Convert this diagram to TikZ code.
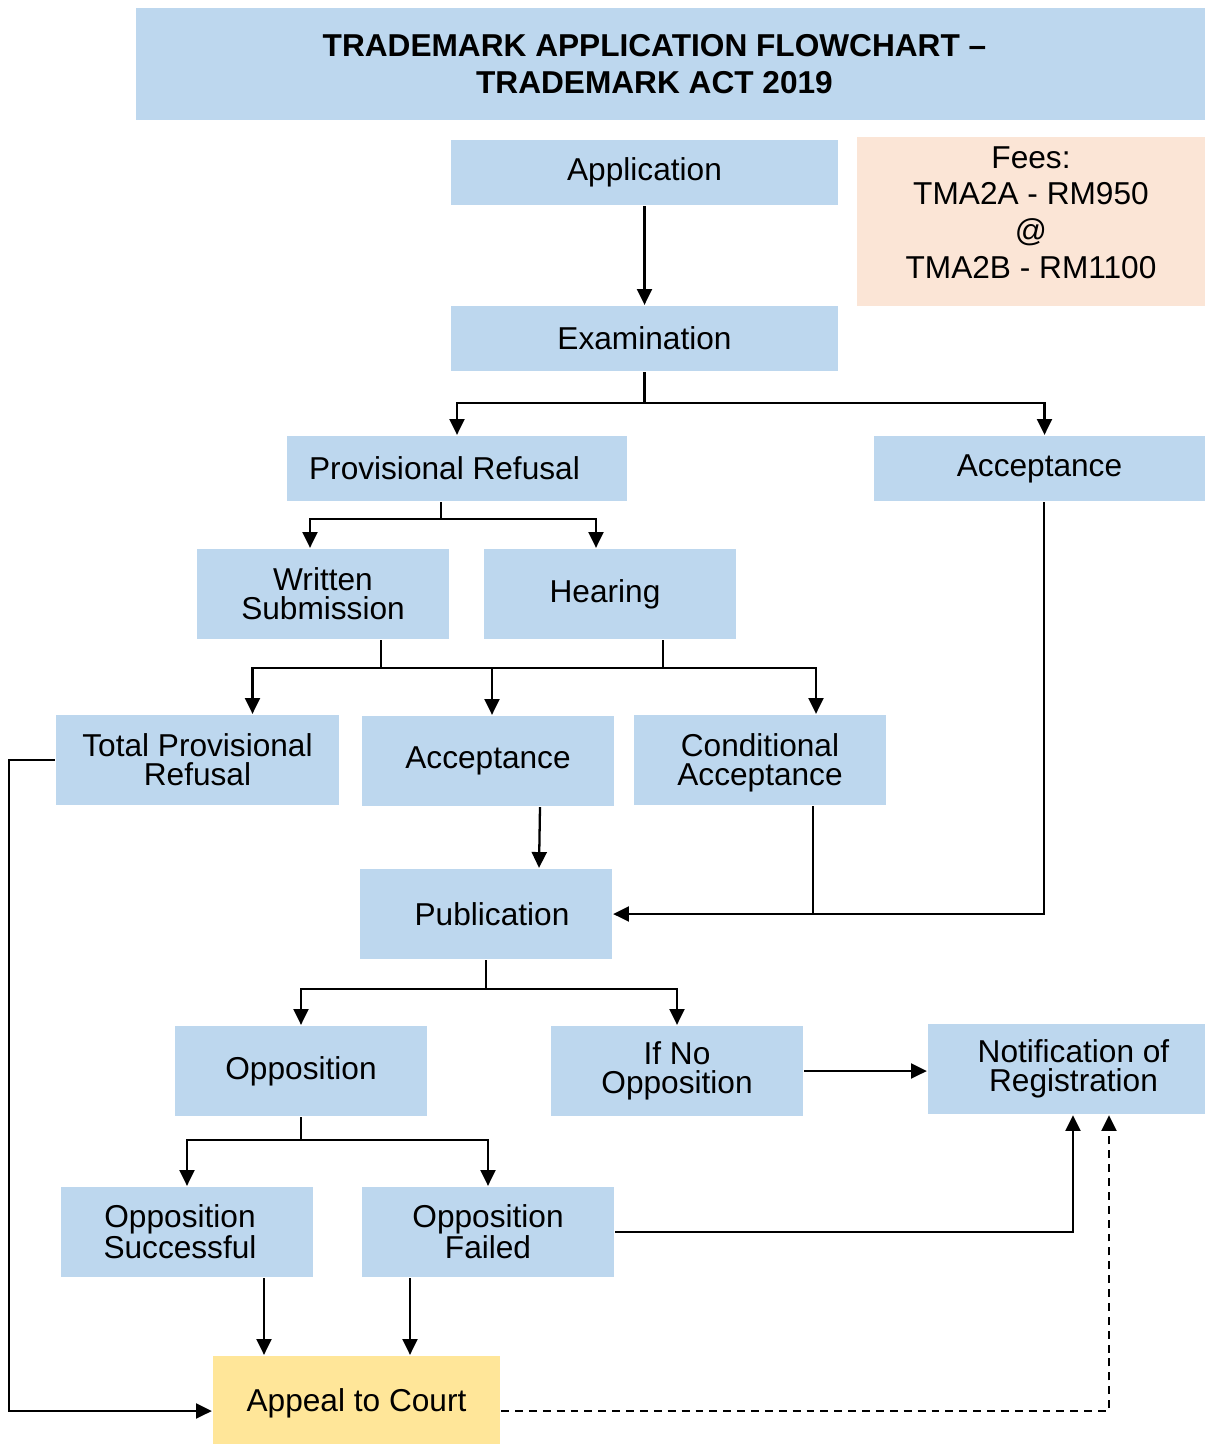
\documentclass[tikz,border=0pt]{standalone}
\usepackage{fontspec}
\setmainfont{Liberation Sans}
\usepackage{xcolor}
\definecolor{stepblue}{RGB}{189, 215, 238}
\definecolor{feepeach}{RGB}{251, 229, 214}
\definecolor{courtyellow}{RGB}{255, 230, 153}
\usepackage{tikz}
\usetikzlibrary{
    arrows.meta,
    positioning,
    calc
}

\begin{document}
\begin{tikzpicture}[
    line width=1.3pt,
    stage/.style={fill=stepblue, inner sep=0pt, minimum width=5.04cm, minimum height=1.8cm,
        align=center, font=\fontsize{18}{16.5}\selectfont},
    arr/.style={-{Triangle[length=9pt,width=8.5pt]}}
]
    \useasboundingbox (0,0) rectangle (24.1,-28.88);

    % Title and fees
    \node[stage, minimum width=21.38cm, minimum height=2.24cm,
        font=\fontsize{18}{21}\selectfont\bfseries] (title) at (13.41,-1.28)
        {\hspace*{-0.64cm}TRADEMARK APPLICATION FLOWCHART –\\\hspace*{-0.64cm}TRADEMARK ACT 2019};
    \node[stage, fill=feepeach, minimum width=6.96cm, minimum height=3.38cm, text depth=0.36cm,
        font=\fontsize{18}{21}\selectfont] (fees) at (20.62,-4.43)
        {Fees:\\TMA2A - RM950\\@\\TMA2B - RM1100};

    % Stages
    \node[stage, minimum width=7.74cm, minimum height=1.3cm] (app) at (12.89,-3.45) {Application};
    \node[stage, minimum width=7.74cm, minimum height=1.3cm] (exam) at (12.89,-6.77) {Examination};
    \node[stage, minimum width=6.8cm, minimum height=1.3cm] (prov) at (9.14,-9.37) {\hspace*{-0.5cm}Provisional Refusal};
    \node[stage, minimum width=6.62cm, minimum height=1.3cm] (accR) at (20.79,-9.37) {Acceptance};
    \node[stage] (written) at (6.46,-11.88) {Written\\Submission};
    \node[stage] (hearing) at (12.2,-11.88) {\hspace*{-0.2cm}Hearing};
    \node[stage, minimum width=5.66cm] (tpr) at (3.95,-15.2) {Total Provisional\\Refusal};
    \node[stage] (accM) at (9.76,-15.22) {Acceptance};
    \node[stage, text depth=-0.19cm] (cond) at (15.2,-15.2) {Conditional\\Acceptance};
    \node[stage] (pub) at (9.72,-18.28) {\hspace*{0.24cm}Publication};
    \node[stage] (opp) at (6.02,-21.42) {Opposition};
    \node[stage] (noopp) at (13.54,-21.42) {If No\\Opposition};
    \node[stage, minimum width=5.54cm] (notif) at (21.33,-21.38) {\hspace*{0.28cm}Notification of\\\hspace*{0.28cm}Registration};
    \node[stage] (oppS) at (3.74,-24.64) {\hspace*{-0.28cm}Opposition\\\hspace*{-0.28cm}Successful};
    \node[stage] (oppF) at (9.76,-24.64) {Opposition\\Failed};
    \node[stage, fill=courtyellow, minimum width=5.74cm, minimum height=1.76cm, text depth=-0.11cm] (appeal) at (7.13,-28.0) {Appeal to Court};

    % Connectors
    \draw[arr] (app) -- (exam);
    \draw (exam.south) -- ++(0,-0.62) coordinate (e1);
    \draw[arr] (e1) -| (prov.north);
    \draw[arr] (e1) -| ([xshift=0.1cm]accR.north);

    \draw ([xshift=-0.32cm]prov.south) -- ++(0,-0.34) coordinate (p1);
    \draw[arr] (p1) -| ([xshift=-0.26cm]written.north);
    \draw[arr] (p1) -| ([xshift=-0.28cm]hearing.north);

    \draw ([xshift=1.16cm]written.south) -- ++(0,-0.56);
    \draw ([xshift=1.06cm]hearing.south) -- ++(0,-0.56) coordinate (h1);
    \draw[arr] (h1) -| ([xshift=1.1cm]tpr.north);
    \draw[arr] (h1) -| ([xshift=1.12cm]cond.north);
    \draw[arr] ([xshift=0.08cm]accM.north |- h1) -- ([xshift=0.08cm]accM.north);

    \draw[arr] ([xshift=1.04cm]accM.south) -- ([xshift=1.06cm]pub.north);
    \draw ([xshift=1.06cm]cond.south) -- ([xshift=1.06cm]cond.south |- pub.east);
    \draw[arr] ([xshift=0.09cm]accR.south) |- (pub.east);

    \draw (pub.south) -- ++(0,-0.58) coordinate (u1);
    \draw[arr] (u1) -| (opp.north);
    \draw[arr] (u1) -| (noopp.north);
    \draw[arr] (noopp.east) -- (noopp.east -| notif.west);

    \draw (opp.south) -- ++(0,-0.46) coordinate (o1);
    \draw[arr] (o1) -| (oppS.north);
    \draw[arr] (o1) -| (oppF.north);
    \draw[arr] (oppF.east) -| ([xshift=0.13cm]notif.south);

    \draw[arr] ([xshift=1.54cm]oppS.south) -- ([xshift=1.54cm]oppS.south |- appeal.north);
    \draw[arr] ([xshift=-1.56cm]oppF.south) -- ([xshift=-1.56cm]oppF.south |- appeal.north);
    \draw[arr] (tpr.west) -- ++(-0.92,0) |- ([yshift=-0.22cm]appeal.west);
    \draw[arr, dash pattern=on 4.5pt off 3.4pt] ([yshift=-0.22cm]appeal.east) -| ([xshift=0.85cm]notif.south);
\end{tikzpicture}
\end{document}
